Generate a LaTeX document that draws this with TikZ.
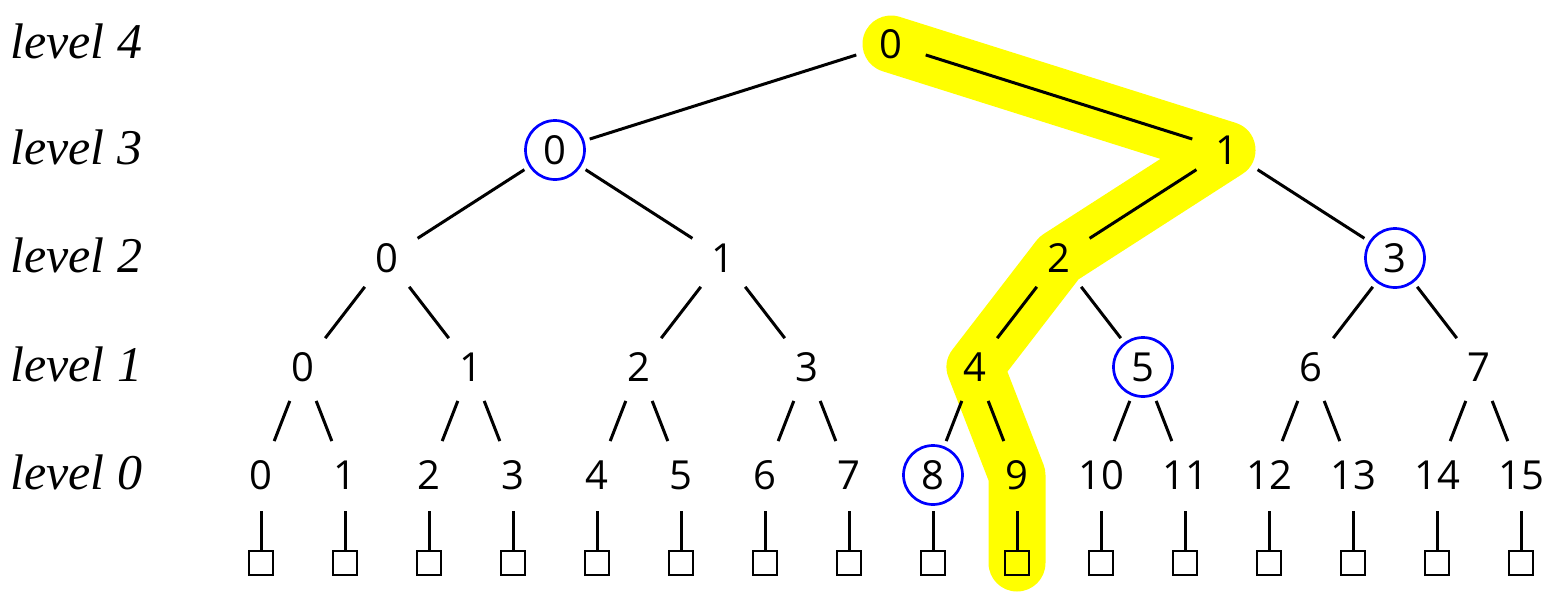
\documentclass[tikz,border=0pt]{standalone}
\usepackage{fontspec}
\setmainfont{Open Sans}
\newfontfamily\labelfont{Liberation Serif}
\usetikzlibrary{backgrounds}
\definecolor{hiyellow}{RGB}{255,255,0}
\definecolor{ringblue}{RGB}{0,0,255}
\begin{document}
\begin{tikzpicture}[x=0.5pt,y=-0.5pt,
  num/.style={circle, minimum size=36pt, inner sep=0pt, font=\fontsize{20}{21}\selectfont},
  lvl/.style={anchor=base west, inner sep=0pt, font=\labelfont\itshape\fontsize{25}{26}\selectfont},
  edge/.style={line width=1.5pt},
  ring/.style={draw=ringblue, line width=1.35pt},
  leafbox/.style={draw, line width=1.25pt, minimum size=12pt, inner sep=0pt},
  hilite/.style={draw=hiyellow, line width=28.5pt, line cap=round, line join=round}]
\useasboundingbox (0,0) rectangle (1554,606);
% level labels
\node[lvl] (L4) at (10,58) {level 4};
\node[lvl] (L3) at (10,164) {level 3};
\node[lvl] (L2) at (10,272) {level 2};
\node[lvl] (L1) at (10,381) {level 1};
\node[lvl] (L0) at (10,489) {level 0};
% nodes
\foreach \i in {0,...,15} {
  \node[num] (a\i) at ({261+84*\i},475) {\i};
  \node[leafbox] (s\i) at ({261+84*\i},563) {};
  \draw[edge] (a\i.south) -- (s\i.north);
}
\foreach \i in {0,...,7} \node[num] (b\i) at ({303+168*\i},367) {\i};
\foreach \i in {0,...,3} \node[num] (c\i) at ({387+336*\i},258) {\i};
\foreach \i in {0,1} \node[num] (d\i) at ({555+672*\i},150) {\i};
\node[num] (e0) at (891,44) {0};
% edges
\foreach \i in {0,...,7} {
  \pgfmathtruncatemacro\l{2*\i}
  \pgfmathtruncatemacro\r{2*\i+1}
  \draw[edge] (b\i) -- (a\l);
  \draw[edge] (b\i) -- (a\r);
}
\foreach \i in {0,...,3} {
  \pgfmathtruncatemacro\l{2*\i}
  \pgfmathtruncatemacro\r{2*\i+1}
  \draw[edge] (c\i) -- (b\l);
  \draw[edge] (c\i) -- (b\r);
}
\foreach \i in {0,1} {
  \pgfmathtruncatemacro\l{2*\i}
  \pgfmathtruncatemacro\r{2*\i+1}
  \draw[edge] (d\i) -- (c\l);
  \draw[edge] (d\i) -- (c\r);
}
\draw[edge] (e0) -- (d0);
\draw[edge] (e0) -- (d1);
% blue rings
\foreach \n in {d0,c3,b5,a8} \draw[ring] (\n.center) circle[radius=14.75pt];
% highlight
\begin{pgfonlayer}{background}
\draw[hilite] (e0.center) -- (d1.center) -- (c2.center) -- (b4.center) -- (a9.center) -- (s9.center);
\end{pgfonlayer}
\end{tikzpicture}
\end{document}
